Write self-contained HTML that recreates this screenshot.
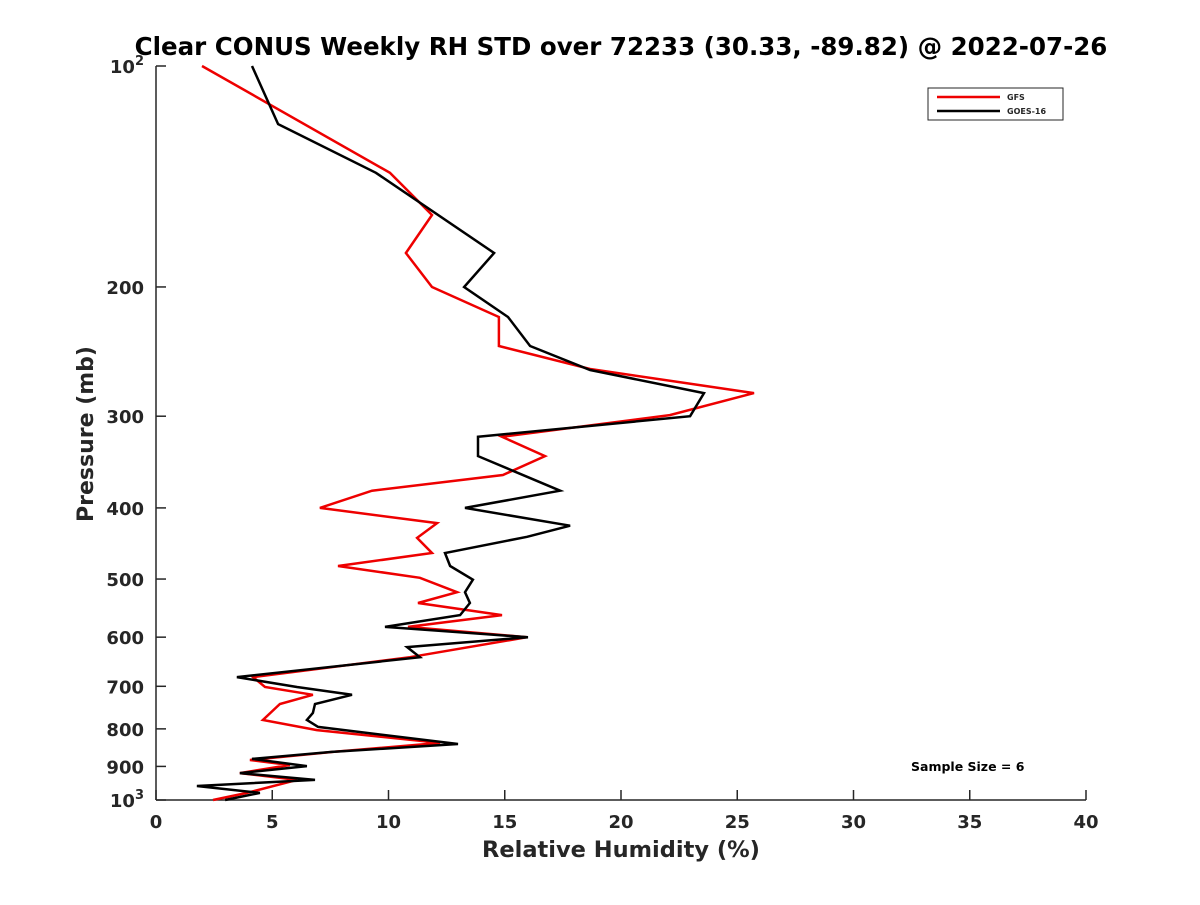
<!DOCTYPE html>
<html><head><meta charset="utf-8"><style>
body{margin:0;background:#fff;}
svg text{font-family:"DejaVu Sans","Liberation Sans",sans-serif;font-weight:bold;fill:#262626;}
</style></head><body>
<svg id="c" width="1200" height="900" xmlns="http://www.w3.org/2000/svg">
<rect width="1200" height="900" fill="#fff"/>
<text x="621" y="55" font-size="24.5" text-anchor="middle" style="fill:#000">Clear CONUS Weekly RH STD over 72233 (30.33, -89.82) @ 2022-07-26</text>
<g id="axes"></g>
<g id="series"></g>
<g>
<rect x="928" y="88" width="135" height="32" fill="#fff" stroke="#262626" stroke-width="1"/>
<line x1="937" y1="97" x2="1000" y2="97" stroke="#e00" stroke-width="2.5"/>
<text x="1007" y="100" font-size="8">GFS</text>
<line x1="937" y1="111" x2="1000" y2="111" stroke="#000" stroke-width="2.5"/>
<text x="1007" y="114" font-size="8">GOES-16</text>
</g>
<text x="911" y="771" font-size="12.5" style="fill:#000">Sample Size = 6</text>
<text x="621" y="857" font-size="22.5" text-anchor="middle">Relative Humidity (%)</text>
<text transform="translate(93,434) rotate(-90)" font-size="22" text-anchor="middle">Pressure (mb)</text>
</svg>
<script>
const xTicks=[0,5,10,15,20,25,30,35,40];
const yTicks=[100,200,300,400,500,600,700,800,900,1000];
const yTickLabels=["10|2","200","300","400","500","600","700","800","900","10|3"];
const gfsP=[100,139.8,159.6,179.8,200,219.8,240.7,258.7,279,299,320,340,360.8,379,400,419.5,439.5,460.8,480,498,521,539,559.8,581,600,639,680,701.5,719,740,778,803,836,860,882,896,919,939,978,1000];
const gfsRH=[1.98,10.06,11.87,10.75,11.87,14.75,14.75,18.67,25.72,22.1,14.88,16.73,14.92,9.29,7.05,12.09,11.23,11.87,7.83,11.35,12.95,11.27,14.88,10.84,15.96,10.92,4.17,4.69,6.75,5.33,4.6,6.92,12.22,7.61,4.04,5.76,3.61,6.06,3.91,2.45];
const goesP=[100,120,139.8,179.8,200,219.8,240.7,259.5,279,300,320,340,379,400,423,438,460.8,480,501,521,539,559.8,581,600,619,639,680,701.5,719,740,761,778,795,839,860,879,899,919,939,957,978,1000];
const goesRH=[4.13,5.25,9.46,14.54,13.25,15.14,16.09,18.67,23.57,22.97,13.85,13.85,17.38,13.29,17.81,15.96,12.43,12.65,13.63,13.29,13.5,13.08,9.85,16.0,10.8,11.35,3.48,6.06,8.43,6.84,6.75,6.49,6.97,12.99,7.57,4.13,6.49,3.61,6.84,1.76,4.47,2.97];
const X0=156,X1=1086,Y0=66,Y1=800;
function xs(v){return X0+(v/40)*(X1-X0);}
function ys(p){return Y0+(Math.log10(p)-2)*(Y1-Y0);}
const NS="http://www.w3.org/2000/svg";
const ax=document.getElementById('axes');
function mk(t,a,parent){const e=document.createElementNS(NS,t);for(const k in a)e.setAttribute(k,a[k]);parent.appendChild(e);return e;}
let l=mk('line',{x1:X0,y1:Y1,x2:X1,y2:Y1,stroke:'#262626','stroke-width':1.5},ax);


l=mk('line',{x1:X0,y1:Y0,x2:X0,y2:Y1,stroke:'#262626','stroke-width':1.5},ax);


xTicks.forEach(v=>{
  mk('line',{x1:xs(v),y1:Y1,x2:xs(v),y2:Y1-10,stroke:'#262626','stroke-width':1.5},ax);
  const t=mk('text',{x:xs(v),y:Y1+28,'font-size':18,'text-anchor':'middle'},ax);
  t.textContent=v;
  
  
});
yTicks.forEach((p,i)=>{
  mk('line',{x1:X0,y1:ys(p),x2:X0+10,y2:ys(p),stroke:'#262626','stroke-width':1.5},ax);
  const lab=yTickLabels[i];
  const t=mk('text',{x:X0-12,y:ys(p)+7,'font-size':18,'text-anchor':'end'},ax);
  if(lab.indexOf('|')>=0){
    const parts=lab.split('|');
    const a=mk('tspan',{},t);a.textContent=parts[0];
    const b=mk('tspan',{dy:-8,'font-size':13},t);b.textContent=parts[1];
  } else t.textContent=lab;
  
  
});
const sg=document.getElementById('series');
function line(P,R,col,name){
  const d=P.map((p,i)=>(i?'L':'M')+xs(R[i]).toFixed(1)+' '+ys(p).toFixed(1)).join(' ');
  const e=mk('path',{d:d,fill:'none',stroke:col,'stroke-width':2.5,'stroke-linejoin':'miter'},sg);
  
  
}
line(gfsP,gfsRH,'#e00','gfs-line');
line(goesP,goesRH,'#000','goes16-line');
</script>
</body></html>
